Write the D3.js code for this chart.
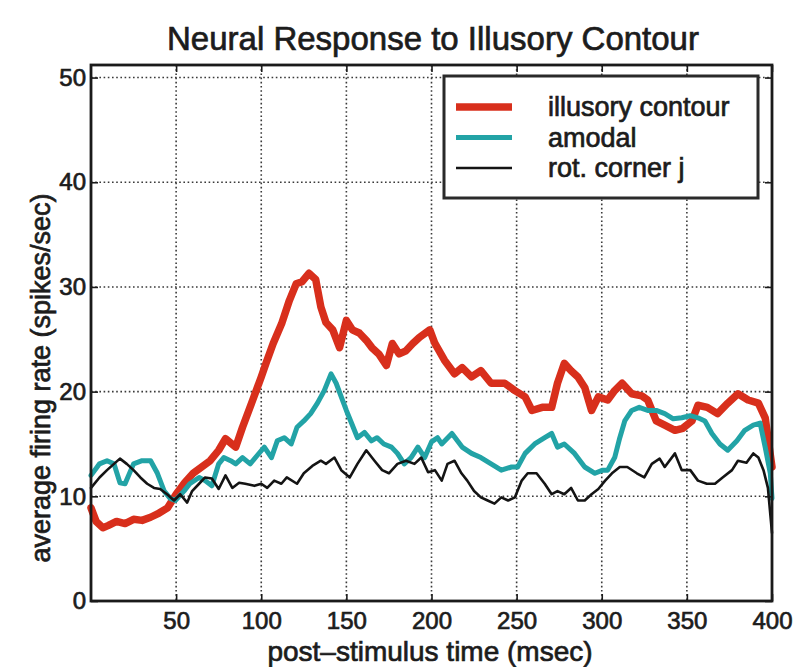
<!DOCTYPE html>
<html>
<head>
<meta charset="utf-8">
<script src="https://cdn.jsdelivr.net/npm/d3@7/dist/d3.min.js"></script>
<style>
  html, body { margin: 0; padding: 0; background: #fff; }
  svg { display: block; }
  text { font-family: "Liberation Sans", Arial, Helvetica, sans-serif; fill: #1c1c1c; stroke: #1c1c1c; stroke-width: 0.7px; }
</style>
</head>
<body>
<svg id="chart" width="799" height="667"></svg>
<script>
// Post-stimulus time (msec) and average firing rate (spikes/sec) per condition
const illusoryT = [0,3,7,10,15,20,25,30,35,40,45,50,55,60,65,70,75,79,85,89,95,100,103,107,112,116.5,120.5,124,128,132,135,138,142,146,150,153.5,157.6,161.7,165,169,173.5,177,181,185,189,193,199,202,207.6,213.5,218,223.5,229,235,243,249,255,259,265,270.6,274,278,282,286,290,294,298,303.5,307.6,312,317.6,323.5,327,332,337,343,347.6,353,356.5,362,368,374,380,386,392,396,400];
const illusoryV = [8.9,7.6,7.0,7.2,7.6,7.4,7.8,7.7,8.0,8.4,8.9,10.2,11.3,12.2,12.8,13.4,14.4,15.5,14.7,16.6,19.2,21.4,22.8,24.6,26.5,28.7,30.3,30.5,31.3,30.7,28.1,26.6,25.9,24.2,26.8,25.9,25.6,24.9,24.2,23.6,22.5,24.6,23.6,23.9,24.6,25.2,25.9,24.6,23.0,21.7,22.3,21.4,22.0,20.8,20.8,20.1,19.5,18.2,18.5,18.5,20.8,22.7,22.0,21.4,20.4,18.2,19.5,19.2,20.1,20.8,19.8,19.6,19.2,17.2,16.8,16.3,16.5,17.2,18.7,18.5,17.9,18.9,19.8,19.2,18.9,17.5,12.8];

const amodalT = [0,5,9.4,13.5,17,20,25,30,35,39,43,46.5,49.5,54.6,58,63.5,67,71,75,78,82,85,89,93.5,97.6,101.8,106,109.4,113.5,117.6,121,125,129,133,137,141,144,147,150,153,156.5,160.6,164.7,168,172,176.5,180,184,188,192,196,200,203.5,206,212,218,223.5,229,235,241,247,250.6,255,260.6,266.5,270.6,274,278,284,290,296,300.6,303.5,307.6,310.6,313.5,317.6,322,327,332,337,342,347,352,356.5,360.6,364.7,369.4,374,379.4,384,389,393,396,399,400];
const amodalV = [12.0,13.1,13.4,13.1,11.3,11.2,13.1,13.4,13.4,12.2,10.5,9.8,9.6,10.5,11.2,11.8,11.5,11.0,13.1,13.7,13.4,13.1,13.7,13.1,13.9,14.7,13.7,15.3,15.6,15.0,16.6,17.2,17.9,18.9,20.1,21.7,20.8,19.5,18.2,17.0,15.6,16.1,15.3,15.6,15.0,14.7,14.1,13.1,13.7,14.7,13.7,15.2,15.6,15.0,16.0,14.7,14.1,13.7,13.1,12.5,12.8,12.8,14.1,15.0,15.6,16.0,14.7,15.0,14.1,12.8,12.2,12.5,12.5,13.7,15.6,17.2,18.2,18.5,18.2,18.2,17.9,17.4,17.5,17.7,17.5,17.2,16.0,15.0,14.4,15.3,16.3,16.8,17.0,14.7,12.2,9.8];

const cornerT = [0,5,9.4,13.5,17,21,25,29,33,37,40.6,44.7,48.8,52.4,56.5,59.4,63.5,67,71,75,79,83,87,90.6,96,100,103.5,107.6,111.8,115,121,125,130,135,138,143,147,152,156.5,161.7,166.5,171,175,180,185,190,194,198,202,206,209.4,213.5,217.6,221,225,229,233,237,241,245,249,253,256.5,261.7,266.5,270.6,274,278,282,286,290,294,298,302,306,310.6,315,320.6,325,329.4,334,337,343,347,352,356.5,361.7,366.5,371,376.5,380,385,389,392,395,397.6,400];
const cornerV = [10.8,11.8,12.5,13.1,13.6,13.1,12.5,11.8,11.2,10.8,10.7,10.2,9.6,10.2,9.4,10.5,11.2,11.8,11.7,10.7,12.0,10.8,11.3,11.2,11.0,11.2,10.8,11.5,11.2,11.8,11.2,12.2,12.9,13.4,13.1,13.7,12.5,11.8,13.1,14.4,13.4,12.5,12.2,13.1,13.4,13.1,13.7,12.3,12.5,11.5,13.1,13.4,12.2,11.5,10.5,9.9,9.6,9.3,9.9,9.6,9.9,11.5,12.2,12.2,11.2,10.2,10.5,10.2,10.8,9.6,9.6,10.2,10.7,11.5,12.2,12.8,12.8,12.2,11.8,13.1,13.6,12.8,14.1,12.5,12.5,11.5,11.2,11.2,11.8,12.5,13.4,13.2,14.1,13.7,12.5,10.8,6.5];

const seriesNames = ["illusory contour", "amodal", "rot. corner j"];
const seriesColors = ["#d82f1c", "#22a3a6", "#141414"];
const seriesWidths = [7.5, 5, 2.6];

const xTicks = [50, 100, 150, 200, 250, 300, 350, 400];
const yTicks = [0, 10, 20, 30, 40, 50];

const titleText = "Neural Response to Illusory Contour";
const xLabel = "post\u2013stimulus time (msec)";
const yLabel = "average firing rate (spikes/sec)";

const svg = d3.select("#chart");
const plotL = 91, plotR = 772, plotT = 65, plotB = 601;

const x = d3.scaleLinear().domain([0, 400]).range([plotL, plotR]);
const y = d3.scaleLinear().domain([0, 51.2]).range([plotB, plotT]);

// dotted grid
const grid = svg.append("g").attr("stroke", "#3a3a3a").attr("stroke-width", 1.6)
  .attr("stroke-dasharray", "1.6,2.6");
grid.selectAll("line.gx").data(xTicks.filter(d => d < 400)).join("line")
  .attr("class", "gx")
  .attr("x1", d => x(d)).attr("x2", d => x(d)).attr("y1", plotT).attr("y2", plotB);
grid.selectAll("line.gy").data(yTicks.filter(d => d > 0)).join("line")
  .attr("class", "gy")
  .attr("y1", d => y(d)).attr("y2", d => y(d)).attr("x1", plotL).attr("x2", plotR);

// series lines
const series = [
  { t: illusoryT, v: illusoryV },
  { t: amodalT, v: amodalV },
  { t: cornerT, v: cornerV }
];
const line = d3.line().x(d => x(d[0])).y(d => y(d[1]));
series.forEach((s, i) => {
  const pts = s.t.map((t, k) => [t, s.v[k]]);
  svg.append("path").datum(pts)
    .attr("d", line)
    .attr("fill", "none")
    .attr("stroke", seriesColors[i])
    .attr("stroke-width", seriesWidths[i])
    .attr("stroke-linejoin", "round")
    .attr("stroke-linecap", "round");
});

// axes with inward ticks, mirrored on top and right
const tickLen = 7;
const axB = d3.axisBottom(x).tickValues(xTicks).tickSizeInner(-tickLen).tickSizeOuter(0).tickPadding(11);
const axL = d3.axisLeft(y).tickValues(yTicks).tickSizeInner(-tickLen).tickSizeOuter(0).tickPadding(5);
const axT = d3.axisTop(x).tickValues(xTicks).tickSizeInner(-tickLen).tickSizeOuter(0).tickFormat("");
const axR = d3.axisRight(y).tickValues(yTicks).tickSizeInner(-tickLen).tickSizeOuter(0).tickFormat("");

function styleAxis(g) {
  g.select(".domain").remove();
  g.selectAll(".tick line").attr("stroke", "#1a1a1a").attr("stroke-width", 1.6);
  g.selectAll(".tick text").attr("font-size", 24).attr("fill", "#1c1c1c")
    .attr("font-family", "'Liberation Sans', Arial, sans-serif");
}
svg.append("g").attr("transform", `translate(0,${plotB})`).call(axB).call(styleAxis);
svg.append("g").attr("transform", `translate(${plotL},0)`).call(axL).call(styleAxis);
svg.append("g").attr("transform", `translate(0,${plotT})`).call(axT).call(styleAxis);
svg.append("g").attr("transform", `translate(${plotR},0)`).call(axR).call(styleAxis);

// frame
svg.append("rect").attr("x", plotL).attr("y", plotT)
  .attr("width", plotR - plotL).attr("height", plotB - plotT)
  .attr("fill", "none").attr("stroke", "#1a1a1a").attr("stroke-width", 2.8);

// legend
const lg = svg.append("g");
lg.append("rect").attr("x", 444).attr("y", 76).attr("width", 314).attr("height", 122)
  .attr("fill", "#fff").attr("stroke", "#2a2a2a").attr("stroke-width", 3);
seriesNames.forEach((name, i) => {
  const yy = 107 + i * 30.5;
  lg.append("line").attr("x1", 456).attr("x2", 512).attr("y1", yy).attr("y2", yy)
    .attr("stroke", seriesColors[i]).attr("stroke-width", seriesWidths[i]);
  lg.append("text").attr("x", 548).attr("y", yy + 9).attr("font-size", 27).text(name);
});

// title and axis labels
svg.append("text").attr("x", 433).attr("y", 50).attr("text-anchor", "middle")
  .attr("font-size", 33).text(titleText);
svg.append("text").attr("x", 430).attr("y", 661).attr("text-anchor", "middle")
  .attr("font-size", 28).text(xLabel);
svg.append("text").attr("transform", "translate(50,378) rotate(-90)")
  .attr("text-anchor", "middle").attr("font-size", 27).text(yLabel);
</script>
</body>
</html>
